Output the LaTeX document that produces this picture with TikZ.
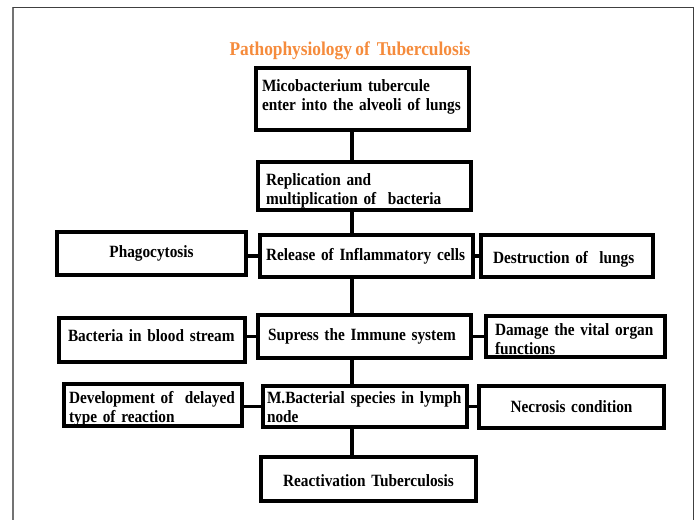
\documentclass[tikz,border=0pt]{standalone}
\usepackage{fontspec}
\setmainfont{Liberation Serif}[FakeStretch=0.89, WordSpace=0.8]
\usepackage{tikz}
\usepackage{color}

\definecolor{titleorange}{HTML}{F58B3C}
\tikzset{
  box/.style={draw, line width=3.2pt, inner ysep=0pt, align=left,
    font=\fontsize{17.2}{19.5}\selectfont\bfseries},
  link/.style={line width=3.2pt},
}

\begin{document}
\begin{tikzpicture}[x=1pt,y=-1pt]
\useasboundingbox (0,0) rectangle (697,520);
% page frame
\draw[black!55, line width=2pt] (12.5,520) -- (12.5,7);
\draw[black!75, line width=1pt] (12.5,7) -- (693,7) -- (693,520);

\node[anchor=base, text=titleorange, font=\fontsize{19.5}{22}\selectfont\bfseries] (title) at (350,55) {Pathophysiology of~ Tuberculosis};

% main column
\node[box, inner xsep=6pt, text width=201pt, text height=23pt, text depth=39pt] (mico) at (362.5,99) {Micobacterium tubercule\\enter into the alveoli of lungs};
\node[box, inner xsep=8pt, text width=197pt, text height=23pt, text depth=25pt] (repl) at (364.5,186) {Replication and\\multiplication of~ bacteria};
\node[box, inner xsep=6pt, text width=201pt, text height=25pt, text depth=17pt] (release) at (366.5,256) {Release of Inflammatory cells};
\node[box, inner xsep=10pt, text width=193pt, text height=25pt, text depth=18pt] (supress) at (364.5,336.5) {Supress the Immune system};
\node[box, inner xsep=4pt, text width=196pt, text height=17pt, text depth=24pt] (mbact) at (365,406.5) {M.Bacterial species in lymph\\node};
\node[box, align=center, inner xsep=4pt, text width=207pt, text height=29pt, text depth=15pt] (react) at (368.5,479) {Reactivation Tuberculosis};

% left side
\node[box, align=center, inner xsep=4pt, text width=181pt, text height=25pt, text depth=18pt] (phago) at (151.5,253.5) {Phagocytosis};
\node[box, inner xsep=9pt, text width=168pt, text height=23pt, text depth=21pt] (blood) at (152,340) {Bacteria in blood stream};
\node[box, inner xsep=5pt, text width=168pt, text height=19pt, text depth=23pt] (develop) at (153,405) {Development of~ delayed\\type of reaction};

% right side
\node[box, inner xsep=12pt, text width=148pt, text height=28pt, text depth=14pt] (destr) at (567,256) {Destruction of~ lungs};
\node[box, inner xsep=9pt, text width=161pt, text height=19pt, text depth=22pt] (damage) at (575.5,336.5) {Damage the vital organ\\functions};
\node[box, align=center, inner xsep=4pt, text width=177pt, text height=26pt, text depth=16pt] (necro) at (571.5,407) {Necrosis condition};

% connectors
\coordinate (spine) at (352,0);
\draw[link] (mico.south -| spine) -- (repl.north -| spine);
\draw[link] (repl.south -| spine) -- (release.north -| spine);
\draw[link] (release.south -| spine) -- (supress.north -| spine);
\draw[link] (supress.south -| spine) -- (mbact.north -| spine);
\draw[link] (mbact.south -| spine) -- (react.north -| spine);

\draw[link] (release.west) -- (release.west -| phago.east);
\draw[link] (release.east) -- (release.east -| destr.west);
\draw[link] (supress.west) -- (supress.west -| blood.east);
\draw[link] (supress.east) -- (supress.east -| damage.west);
\draw[link] (mbact.west) -- (mbact.west -| develop.east);
\draw[link] (mbact.east) -- (mbact.east -| necro.west);
\end{tikzpicture}
\end{document}
